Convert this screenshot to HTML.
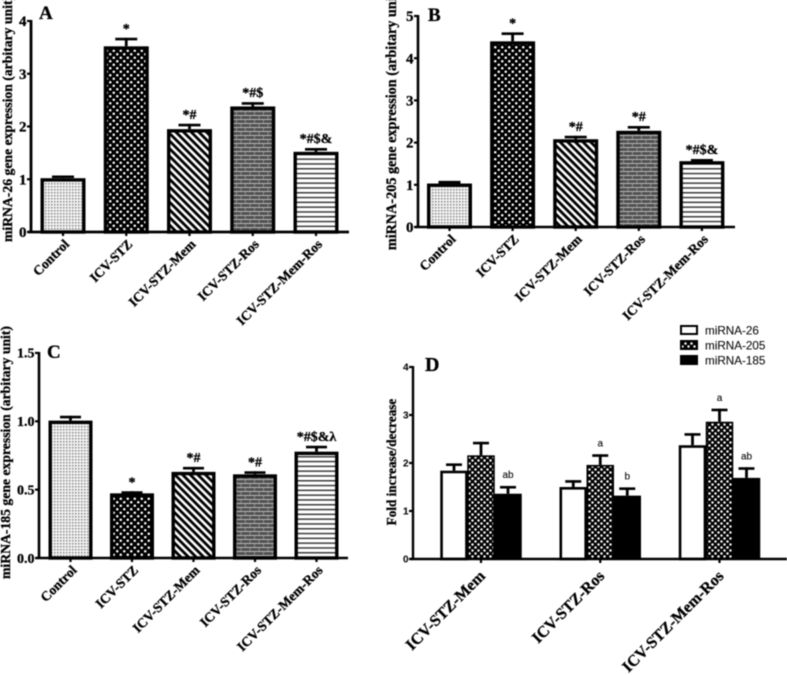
<!DOCTYPE html>
<html>
<head>
<meta charset="utf-8">
<title>miRNA gene expression charts</title>
<style>
html,body{margin:0;padding:0;background:#fff;width:787px;height:675px;overflow:hidden}
svg{display:block;filter:blur(.4px)}
.serif{font-family:"Liberation Serif",serif;font-weight:bold;fill:#000;stroke:#000;stroke-width:.3px}
.sans{font-family:"Liberation Sans",sans-serif;fill:#111;stroke:#111;stroke-width:.12px}
</style>
</head>
<body>
<svg id="figure" xmlns="http://www.w3.org/2000/svg" width="787" height="675" viewBox="0 0 787 675">
<defs>
<pattern id="p-fine" patternUnits="userSpaceOnUse" width="3" height="3"><rect width="3" height="3" fill="#f2f2f2"/><rect x="0" y="0" width="1.5" height="1.5" fill="#8a8a8a"/></pattern>
<pattern id="p-dots" patternUnits="userSpaceOnUse" width="7" height="7"><rect width="7" height="7" fill="#000"/><circle cx="1.75" cy="1.75" r="1.25" fill="#fff"/><circle cx="5.25" cy="5.25" r="1.25" fill="#fff"/></pattern>
<pattern id="p-diag" patternUnits="userSpaceOnUse" width="5.4" height="5.4" patternTransform="rotate(45)"><rect width="5.4" height="5.4" fill="#fff"/><rect y="0" width="5.4" height="2.8" fill="#000"/></pattern>
<pattern id="p-brick" patternUnits="userSpaceOnUse" width="9" height="8"><rect width="9" height="8" fill="#505050"/><rect y="3" width="9" height="1" fill="#b8b8b8"/><rect y="7" width="9" height="1" fill="#b8b8b8"/><rect x="2" y="0" width="1" height="3" fill="#888"/><rect x="6.5" y="4" width="1" height="3" fill="#888"/></pattern>
<pattern id="p-hlines" patternUnits="userSpaceOnUse" width="5" height="4.8"><rect width="5" height="4.8" fill="#fff"/><rect y="0" width="5" height="1.5" fill="#3a3a3a"/></pattern>
<pattern id="p-check" patternUnits="userSpaceOnUse" width="6" height="6"><rect width="6" height="6" fill="#000"/><rect x=".4" y=".4" width="2.2" height="2.2" fill="#fff"/><rect x="3.4" y="3.4" width="2.2" height="2.2" fill="#fff"/></pattern>
</defs>
</svg>
<script>
// Panel A
const categories = ['Control', 'ICV-STZ', 'ICV-STZ-Mem', 'ICV-STZ-Ros', 'ICV-STZ-Mem-Ros'];
const aValues = [1.02, 3.52, 1.95, 2.38, 1.52];
const aErrors = [0.05, 0.16, 0.10, 0.08, 0.07];
const aMarks = ['', '*', '*#', '*#$', '*#$&'];
const aTicks = [0, 1, 2, 3, 4];
const aTickLabels = ['0', '1', '2', '3', '4'];
// Panel B
const bValues = [1.03, 4.40, 2.08, 2.28, 1.56];
const bErrors = [0.06, 0.21, 0.08, 0.11, 0.05];
const bMarks = ['', '*', '*#', '*#', '*#$&'];
const bTicks = [0, 1, 2, 3, 4, 5];
const bTickLabels = ['0', '1', '2', '3', '4', '5'];
// Panel C
const cValues = [1.005, 0.473, 0.63, 0.612, 0.778];
const cErrors = [0.035, 0.015, 0.036, 0.022, 0.042];
const cMarks = ['', '*', '*#', '*#', '*#$&λ'];
const cTicks = [0, 0.5, 1, 1.5];
const cTickLabels = ['0.0', '0.5', '1.0', '1.5'];
// Panel D
const dCategories = ['ICV-STZ-Mem', 'ICV-STZ-Ros', 'ICV-STZ-Mem-Ros'];
const dSeriesNames = ['miRNA-26', 'miRNA-205', 'miRNA-185'];
const dMir26 = [1.84, 1.50, 2.37];
const dMir205 = [2.16, 1.96, 2.86];
const dMir185 = [1.36, 1.32, 1.69];
const dMir26Err = [0.15, 0.14, 0.25];
const dMir205Err = [0.28, 0.22, 0.27];
const dMir185Err = [0.16, 0.17, 0.22];
const dMir26Marks = ['', '', ''];
const dMir205Marks = ['', 'a', 'a'];
const dMir185Marks = ['ab', 'b', 'ab'];
const dTicks = [0, 1, 2, 3, 4];
const dTickLabels = ['0', '1', '2', '3', '4'];

const NS = 'http://www.w3.org/2000/svg';
const root = document.getElementById('figure');
const fills = ['url(#p-fine)', 'url(#p-dots)', 'url(#p-diag)', 'url(#p-brick)', 'url(#p-hlines)'];

function shape(tag, attrs, parent) {
  const el = document.createElementNS(NS, tag);
  for (const k in attrs) el.setAttribute(k, attrs[k]);
  (parent || root).appendChild(el);
  return el;
}
function line(x1, y1, x2, y2, w, parent) {
  return shape('line', {x1: x1, y1: y1, x2: x2, y2: y2, stroke: '#000', 'stroke-width': w}, parent);
}
function label(str, x, y, cls, size, anchor, parent) {
  const el = shape('text', {x: x, y: y, class: cls, 'font-size': size, 'text-anchor': anchor}, parent);
  el.textContent = str;
  return el;
}

function drawAxes(p, g, yScale, ticks, tickLabels, xCenters, xLabels) {
  const yAxis = line(p.axisX, yScale(ticks[ticks.length - 1]) - 1, p.axisX, p.y0 + 1, p.axisW, g);
  
  
  const xAxis = line(p.axisX - 3, p.y0, p.xEnd, p.y0, p.axisW, g);
  
  
  ticks.forEach(function (t, i) {
    const tick = line(p.axisX - 4, yScale(t), p.axisX, yScale(t), 2.2, g);
    
    
    const tl = label(tickLabels[i], p.axisX - 4.5, yScale(t) + p.tickSize * 0.34, p.tickCls, p.tickSize, 'end', g);
    
    
  });
  xLabels.forEach(function (c, i) {
    const cx = xCenters(i);
    const tick = line(cx, p.y0, cx, p.y0 + 4, 2.2, g);
    
    
    const lx = cx + p.labelDx, ly = p.y0 + p.labelDy;
    const tl = label(c, lx, ly, 'serif', p.labelSize, 'end', g);
    tl.setAttribute('transform', 'rotate(-45 ' + lx + ' ' + ly + ')');
    
    
  });
  const ty = label(p.yTitle, p.titleX, p.titleY, 'serif', p.titleSize, 'middle', g);
  ty.setAttribute('transform', 'rotate(-90 ' + p.titleX + ' ' + p.titleY + ')');
  
  
  const letter = label(p.letter, p.letterX, p.letterY, 'serif', p.letterSize, 'start', g);
  
  
}

function drawBar(g, cx, w, y0, yTop, errTop, fill, sw, capW) {
  const stem = line(cx, yTop, cx, errTop, 2.8, g);
  
  
  const cap = line(cx - capW / 2, errTop + 1.2, cx + capW / 2, errTop + 1.2, 2.6, g);
  
  
  const bar = shape('rect', {x: cx - w / 2 + sw / 2, y: yTop + sw / 2, width: w - sw, height: Math.max(0, y0 - yTop - sw / 2), fill: fill, stroke: '#000', 'stroke-width': sw}, g);
  
  
}

function drawSimplePanel(p, values, errors, marks, ticks, tickLabels) {
  const g = shape('g', {});
  
  
  const yScale = function (v) { return p.y0 - v * p.unit; };
  const xc = function (i) { return p.x0 + i * p.step; };
  categories.forEach(function (c, i) {
    const top = yScale(values[i]);
    const errTop = yScale(values[i] + errors[i]);
    drawBar(g, xc(i), p.barW, p.y0, top, errTop, fills[i], 3.4, p.capW);
    if (marks[i]) {
      const m = label(marks[i], xc(i), errTop - 5, 'serif', 14, 'middle', g);
      
      
    }
  });
  drawAxes(p, g, yScale, ticks, tickLabels, xc, categories);
}

drawSimplePanel({name: 'panel-a', x0: 63, step: 63.25, barW: 45, capW: 22, y0: 232, unit: 52.75, axisX: 31, xEnd: 349, axisW: 2.8,
  tickCls: 'serif', tickSize: 15, labelDx: 7, labelDy: 13, labelSize: 13.5,
  yTitle: 'miRNA-26 gene expression (arbitary unit)', titleX: 12, titleY: 119, titleSize: 13.7,
  letter: 'A', letterX: 39, letterY: 19, letterSize: 19}, aValues, aErrors, aMarks, aTicks, aTickLabels);

drawSimplePanel({name: 'panel-b', x0: 449.5, step: 63.1, barW: 45, capW: 22, y0: 227, unit: 42.2, axisX: 418, xEnd: 735, axisW: 2.6,
  tickCls: 'serif', tickSize: 15, labelDx: 7, labelDy: 13, labelSize: 13.5,
  yTitle: 'miRNA-205 gene expression (arbitary unit)', titleX: 396, titleY: 119, titleSize: 14.2,
  letter: 'B', letterX: 428, letterY: 21, letterSize: 19}, bValues, bErrors, bMarks, bTicks, bTickLabels);

drawSimplePanel({name: 'panel-c', x0: 70.5, step: 61.5, barW: 44, capW: 21, y0: 558, unit: 136.7, axisX: 39, xEnd: 348, axisW: 2.6,
  tickCls: 'serif', tickSize: 14, labelDx: 7, labelDy: 13, labelSize: 13.5,
  yTitle: 'miRNA-185 gene expression (arbitary unit)', titleX: 10, titleY: 452.5, titleSize: 13.7,
  letter: 'C', letterX: 47, letterY: 358, letterSize: 19}, cValues, cErrors, cMarks, cTicks, cTickLabels);

(function drawGrouped() {
  const p = {x0: 481, step: 119.25, barW: 27.5, capW: 16, y0: 559, unit: 48, axisX: 413, xEnd: 787, axisW: 2.4,
    tickCls: 'sans', tickSize: 10, labelDx: 5, labelDy: 18, labelSize: 16,
    yTitle: 'Fold increase/decrease', titleX: 396, titleY: 462, titleSize: 13.2,
    letter: 'D', letterX: 425, letterY: 371, letterSize: 20};
  const g = shape('g', {});
  
  
  const yScale = function (v) { return p.y0 - v * p.unit; };
  const xc = function (i) { return p.x0 + i * p.step; };
  const series = [
    {vals: dMir26, errs: dMir26Err, marks: dMir26Marks, fill: '#fff', sw: 2.6},
    {vals: dMir205, errs: dMir205Err, marks: dMir205Marks, fill: 'url(#p-check)', sw: 1.6},
    {vals: dMir185, errs: dMir185Err, marks: dMir185Marks, fill: '#000', sw: 1.6}
  ];
  dCategories.forEach(function (c, i) {
    series.forEach(function (s, j) {
      const cx = xc(i) + (j - 1) * 27;
      const top = yScale(s.vals[i]);
      const errTop = yScale(s.vals[i] + s.errs[i]);
      drawBar(g, cx, p.barW, p.y0, top, errTop, s.fill, s.sw, p.capW);
      if (s.marks[i]) {
        const m = label(s.marks[i], cx, errTop - 8, 'sans', 10, 'middle', g);
        
        
      }
    });
  });
  drawAxes(p, g, yScale, dTicks, dTickLabels, xc, dCategories);
  g.querySelectorAll('text.sans').forEach(function (t) {
    if (/^[0-4]$/.test(t.textContent)) t.setAttribute('font-weight', 'bold');
  });

  const legend = shape('g', {});
  
  
  const swatchFills = ['#fff', 'url(#p-check)', '#000'];
  dSeriesNames.forEach(function (n, i) {
    const ly = 330 + i * 15;
    const sw = shape('rect', {x: 681, y: ly - 4, width: 16, height: 8, fill: swatchFills[i], stroke: '#000', 'stroke-width': 2}, legend);
    
    
    const t = label(n, 705, ly + 4.5, 'sans', 11.7, 'start', legend);
    
    
  });
})();
</script>
</body>
</html>
